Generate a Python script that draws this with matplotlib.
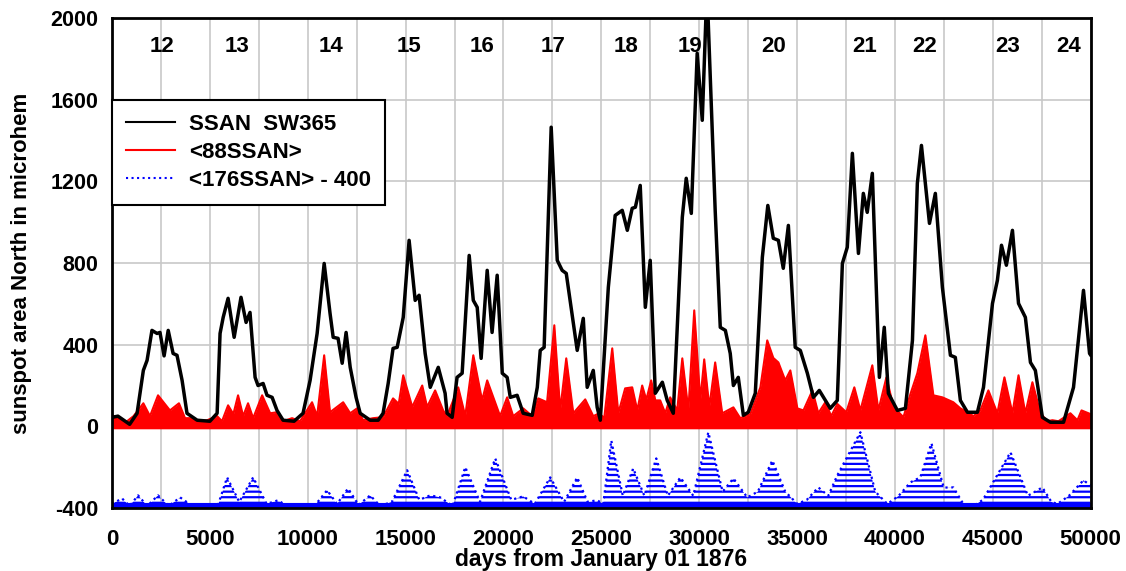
import numpy as np
import matplotlib
matplotlib.use("Agg")
import matplotlib.pyplot as plt

plt.rcParams['font.family'] = ['Liberation Sans', 'DejaVu Sans']
plt.rcParams['font.weight'] = 'bold'
plt.rcParams['axes.unicode_minus'] = False
plt.rcParams['hatch.linewidth'] = 1.6

# SSAN smoothed with a 365-day window (days from 1876-01-01, area in microhem)
sw365_days = [0, 300, 900, 1280, 1600, 1790, 2040, 2300, 2450, 2660, 2870, 3120, 3320, 3580, 3830, 4350, 5000,
              5370, 5520, 5680, 5930, 6240, 6590, 6850, 7050, 7310, 7460, 7720, 7920, 8180, 8430, 8740, 9300,
              9760, 10120, 10480, 10840, 11140, 11300, 11550, 11760, 11960, 12170, 12470, 12680, 13190, 13600,
              13850, 14110, 14360, 14570, 14880, 15180, 15490, 15690, 16000, 16260, 16670, 17020, 17120, 17380,
              17630, 17890, 18250, 18460, 18660, 18860, 19170, 19420, 19680, 19940, 20190, 20350, 20700, 21010,
              21470, 21730, 21880, 22080, 22440, 22750, 23000, 23210, 23770, 24080, 24280, 24590, 24790, 24950,
              25360, 25710, 26070, 26330, 26580, 26740, 26990, 27250, 27500, 27760, 28120, 28370, 28680,
              29140, 29340, 29600, 29900, 30160, 30400, 30820, 31080, 31340, 31590, 31750, 32000, 32260, 32510,
              32870, 33230, 33510, 33790, 34050, 34300, 34560, 34910, 35170, 35530, 35840, 36140, 36700,
              37060, 37320, 37570, 37830, 38140, 38390, 38590, 38850, 39210, 39460, 39670, 40130, 40540,
              40900, 41150, 41360, 41770, 42070, 42430, 42840, 43090, 43350, 43710, 44220,
              44530, 44990, 45240, 45450, 45700, 46010, 46320, 46670, 46930, 47180, 47540, 47950, 48620,
              49130, 49640, 49950, 50000]
sw365_area = [44, 50, 10, 64, 274, 323, 470, 455, 460, 345, 470, 357, 348, 225, 64, 30, 25,
              64, 455, 534, 627, 436, 632, 509, 558, 240, 200, 210, 152, 142, 78, 30, 25,
              64, 225, 455, 798, 553, 436, 431, 309, 460, 289, 142, 64, 30, 30,
              64, 210, 382, 387, 534, 911, 617, 642, 357, 191, 289, 162, 64, 44,
              240, 260, 837, 617, 583, 333, 764, 460, 740, 260, 240, 142, 152, 64,
              54, 191, 372, 387, 1465, 813, 764, 749, 372, 529, 191, 274, 93, 30,
              681, 1033, 1058, 960, 1068, 1073, 1180, 583, 813, 162, 216, 127, 64,
              1024, 1215, 1043, 1827, 1499, 2150, 1058, 485, 470, 357, 200, 240, 54, 69,
              162, 828, 1082, 921, 911, 774, 984, 387, 372, 260, 142, 176, 88,
              127, 798, 877, 1337, 847, 1141, 1048, 1239, 240, 485, 162, 78, 88,
              421, 1190, 1376, 994, 1141, 681, 348, 338, 127, 69, 69,
              191, 602, 715, 887, 789, 960, 602, 534, 313, 274, 44, 20, 20,
              191, 666, 357, 350]

# 88-day running mean, upper envelope of the oscillation
ssan88_days = [0, 300, 700, 1100, 1600, 1940, 2350, 2960, 3420, 3730, 3990, 4400, 4860, 5370, 5620, 5930,
               6200, 6440, 6700, 6950, 7210, 7670, 8080, 8430, 8740, 9200, 9610, 10220, 10480, 10840, 11140,
               11810, 12170, 12520, 12830, 13340, 13850, 14360, 14650, 14880, 15340, 15850, 16100, 16510,
               16920, 17120, 17690, 18050, 18460, 18910, 19170, 19830, 20190, 20500, 21010, 21470, 21780,
               22230, 22600, 22900, 23210, 23570, 24180, 24590, 24900, 25150, 25560, 25870, 26220, 26580,
               26840, 27090, 27300, 27550, 27760, 28010, 28270, 28520, 28880, 29140, 29450, 29750, 30060,
               30260, 30520, 30820, 31180, 31750, 32100, 32620, 33130, 33480, 33790, 34050, 34400, 34660,
               35020, 35330, 35790, 36090, 36450, 36750, 37060, 37520, 37930, 38240, 38850, 39160, 39570,
               39930, 40440, 40800, 41150, 41560, 41970, 42430, 42990, 43350, 43710, 44020, 44370, 44780,
               45240, 45600, 46010, 46320, 46670, 47030, 47440, 47800, 48050, 48360, 48970, 49330, 49540,
               49900, 50000]
ssan88_area = [55, 40, 20, 50, 113, 50, 152, 78, 113, 40, 40, 25, 30, 50, 25, 103,
               60, 152, 50, 113, 40, 152, 64, 69, 25, 40, 25, 118, 50, 348, 69,
               118, 64, 88, 30, 40, 45, 137, 110, 250, 95, 200, 95, 176,
               78, 50, 191, 50, 348, 127, 225, 50, 142, 50, 88, 50, 137,
               118, 495, 78, 333, 64, 132, 50, 64, 40, 382, 64, 186, 191,
               78, 200, 130, 225, 127, 127, 64, 142, 78, 333, 78, 568, 127,
               328, 95, 313, 64, 93, 40, 60, 191, 421, 335, 313, 225, 274,
               88, 78, 176, 64, 118, 50, 110, 69, 191, 78, 299, 78, 240,
               95, 45, 159, 260, 446, 152, 142, 118, 88, 69, 50, 78, 176,
               64, 240, 64, 250, 64, 216, 64, 25, 30, 25, 64, 30, 78,
               64, 60]

# 176-day running mean, upper envelope, shifted down by 400
ssan176_days = [0, 510, 900, 1330, 1800, 2350, 2900, 3480, 4100, 5000, 5400, 5880, 6500, 7210, 7900, 8490,
                9000, 10300, 10990, 11500, 12060, 12600, 13190, 13700, 14300, 15080, 15700, 16260, 16770,
                17400, 18050, 18800, 19580, 20400, 21010, 21600, 22390, 23100, 23770, 24300, 24790, 25100,
                25510, 26100, 26630, 27200, 27810, 28400, 29040, 29700, 30470, 31200, 31750, 32460, 33000,
                33740, 34400, 35020, 35500, 36090, 36600, 37060, 38240, 39000, 39620, 40200, 40800, 41300,
                41870, 42500, 42990, 43500, 43860, 44500, 45910, 46800, 47540, 48000, 48310, 48900, 49640,
                50000]
ssan176_area = [20, 47, 10, 62, 10, 62, 10, 52, 10, 5, 10, 150, 30, 150, 20, 38,
                5, 5, 87, 20, 96, 15, 62, 10, 30, 185, 40, 62, 52,
                10, 200, 30, 243, 40, 57, 20, 150, 30, 150, 30, 38, 20,
                331, 60, 194, 60, 243, 60, 150, 60, 371, 80, 145, 52, 80,
                233, 80, 20, 40, 101, 60, 160, 371, 80, 20, 60, 126, 150,
                317, 100, 101, 20, 0, 40, 273, 60, 101, 30, 20, 60, 136,
                110]
ssan176_offset = -400

# solar cycle numbers along the top
cycle_labels = ['12', '13', '14', '15', '16', '17', '18', '19', '20', '21', '22', '23', '24']
cycle_days = [2556, 6391, 11196, 15184, 18916, 22546, 26278, 29550, 33793, 38446, 41513, 45757, 48875]
cycle_y = 1860

fig = plt.figure(figsize=(11.26, 5.71), dpi=100)
ax = fig.add_axes([0.0995, 0.1103, 0.8690, 0.8582])

d88 = np.array(ssan88_days)
a88 = np.array(ssan88_area)
ax.fill_between(d88, -12, a88, color='#ff0000', linewidth=0, zorder=2)
red_line, = ax.plot(d88, a88, color='#ff0000', lw=1.5, zorder=2, label='<88SSAN>')

d176 = np.array(ssan176_days)
a176 = np.array(ssan176_area) + ssan176_offset
ax.fill_between(d176, ssan176_offset, a176, facecolor='none', edgecolor='#0000ff',
                hatch='---', linewidth=0, zorder=2)
blue_line, = ax.plot(d176, a176, color='#0000ff', lw=1.6, ls=':', zorder=2,
                     label='<176SSAN> - 400')
ax.axhline(ssan176_offset, color='#0000ff', lw=8, zorder=2)

black_line, = ax.plot(sw365_days, sw365_area, color='black', lw=2.5, zorder=3,
                      solid_joinstyle='round', label='SSAN  SW365')

for lab, d in zip(cycle_labels, cycle_days):
    ax.text(d, cycle_y, lab, ha='center', va='center', fontsize=16, fontweight='bold')

ax.set_xlim(0, 50000)
ax.set_ylim(-400, 2000)
ax.set_xticks(np.arange(0, 50001, 5000))
ax.set_xticks(np.arange(0, 50001, 2500), minor=True)
ax.set_yticks(np.arange(-400, 2001, 400))
ax.grid(True, which='both', axis='x', color='#c8c8c8', lw=1.2, zorder=0)
ax.grid(True, which='major', axis='y', color='#c8c8c8', lw=1.2, zorder=0)
ax.set_axisbelow(True)
ax.tick_params(which='both', length=0)
ax.tick_params(axis='x', labelsize=16, pad=15)
ax.tick_params(axis='y', labelsize=15.5, pad=10)
for lbl in ax.get_xticklabels() + ax.get_yticklabels():
    lbl.set_fontweight('bold')
for sp in ax.spines.values():
    sp.set_linewidth(2)
    sp.set_zorder(5)

ax.set_xlabel('days from January 01 1876', fontsize=16.5, fontweight='bold', labelpad=-1)
ax.set_ylabel('sunspot area North in microhem', fontsize=16, fontweight='bold', labelpad=13)

leg = ax.legend(handles=[black_line, red_line, blue_line], loc='upper left',
                bbox_to_anchor=(0, 0.833), borderaxespad=0, fontsize=16, fancybox=False,
                framealpha=1, edgecolor='black', handlelength=2.2, labelspacing=0.3,
                borderpad=0.65, handletextpad=0.6)
leg.get_frame().set_linewidth(1.5)
for ln in leg.get_lines():
    ln.set_linewidth(1.5)
for t in leg.get_texts():
    t.set_fontweight('bold')

fig.savefig('out.png', dpi=100)
